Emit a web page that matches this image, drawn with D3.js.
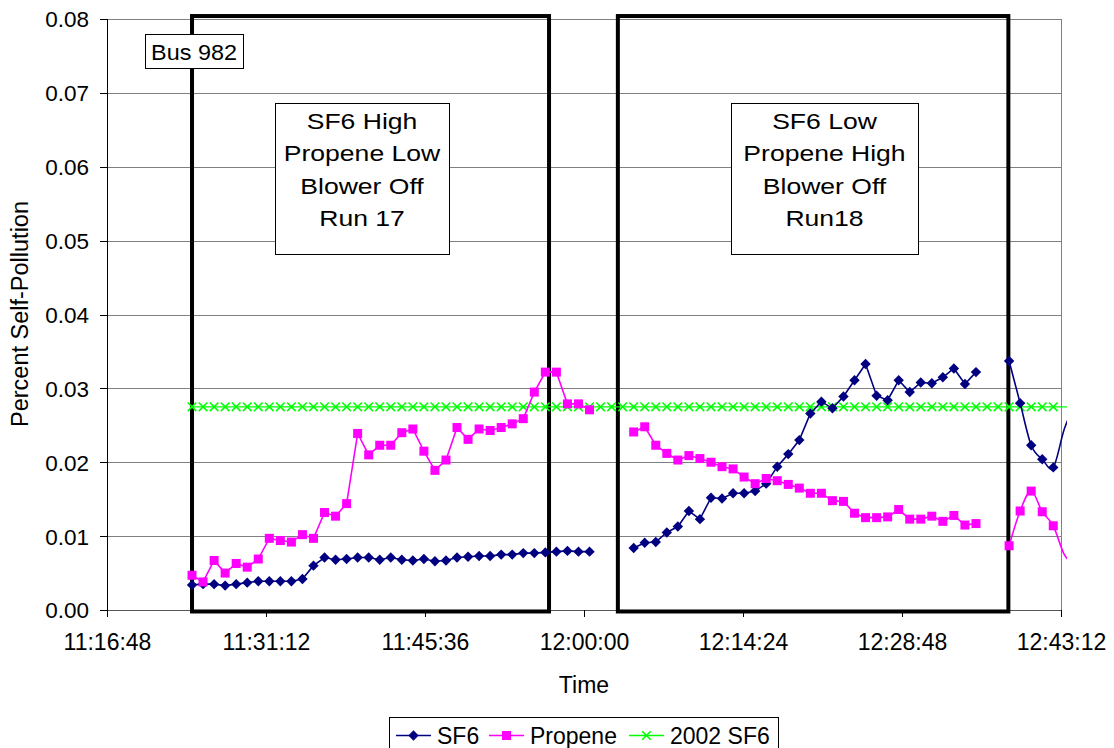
<!DOCTYPE html>
<meta charset="utf-8">
<style>
body { margin: 0; background: #fff; }
text { font-family: "Liberation Sans", Arial, sans-serif; fill: #000; }
.grid line { stroke: #808080; stroke-width: 1px; shape-rendering: crispEdges; }
.axis path, .axis line { fill: none; stroke: #000; shape-rendering: crispEdges; }
</style>
<body>
<script src="https://d3js.org/d3.v7.min.js"></script>
<script>

// sampling starts of each run (one reading per minute)
var runStarts = ["11:24:30", "12:04:30", "12:38:30"];

// SF6 readings, percent self-pollution
var sf6Run17 = [0.0034,0.0035,0.0035,0.0033,0.0035,0.0037,0.0039,0.0039,0.0039,0.0039,
                0.0042,0.0060,0.0071,0.0068,0.0069,0.0071,0.0071,0.0068,0.0071,0.0068,
                0.0067,0.0069,0.0066,0.0067,0.0071,0.0072,0.0073,0.0073,0.0075,0.0075,
                0.0077,0.0077,0.0078,0.0079,0.0080,0.0079,0.0079];
var sf6Run18 = [0.0084,0.0091,0.0092,0.0105,0.0113,0.0134,0.0123,0.0152,0.0151,0.0158,
                0.0158,0.0161,0.0171,0.0194,0.0211,0.0230,0.0266,0.0282,0.0273,0.0289,
                0.0311,0.0333,0.0290,0.0284,0.0311,0.0295,0.0308,0.0307,0.0315,0.0327,
                0.0306,0.0322];
var sf6Run19 = [0.0337,0.0280,0.0223,0.0204,0.0193,0.0245,0.0280];

// Propene readings
var propRun17 = [0.0047,0.0038,0.0067,0.0050,0.0063,0.0058,0.0069,0.0097,0.0094,0.0092,
                 0.0102,0.0097,0.0132,0.0127,0.0144,0.0239,0.0210,0.0223,0.0223,0.0240,
                 0.0245,0.0215,0.0189,0.0203,0.0247,0.0231,0.0245,0.0243,0.0247,0.0252,
                 0.0259,0.0295,0.0322,0.0322,0.0279,0.0279,0.0271];
var propRun18 = [0.0241,0.0248,0.0223,0.0212,0.0203,0.0209,0.0205,0.0200,0.0194,0.0191,
                 0.0180,0.0171,0.0178,0.0175,0.0170,0.0165,0.0158,0.0158,0.0148,0.0147,
                 0.0131,0.0125,0.0125,0.0126,0.0136,0.0123,0.0123,0.0127,0.0120,0.0128,
                 0.0115,0.0117];
var propRun19 = [0.0087,0.0134,0.0161,0.0133,0.0114,0.0075,0.0060];

// 2002 SF6 reference, from 11:24:30 every minute
var sf6Ref2002 = [0.0275,0.0275,0.0275,0.0275,0.0275,0.0275,0.0275,0.0275,0.0275,0.0275,
                  0.0275,0.0275,0.0275,0.0275,0.0275,0.0275,0.0275,0.0275,0.0275,0.0275,
                  0.0275,0.0275,0.0275,0.0275,0.0275,0.0275,0.0275,0.0275,0.0275,0.0275,
                  0.0275,0.0275,0.0275,0.0275,0.0275,0.0275,0.0275,0.0275,0.0275,0.0275,
                  0.0275,0.0275,0.0275,0.0275,0.0275,0.0275,0.0275,0.0275,0.0275,0.0275,
                  0.0275,0.0275,0.0275,0.0275,0.0275,0.0275,0.0275,0.0275,0.0275,0.0275,
                  0.0275,0.0275,0.0275,0.0275,0.0275,0.0275,0.0275,0.0275,0.0275,0.0275,
                  0.0275,0.0275,0.0275,0.0275,0.0275,0.0275,0.0275,0.0275,0.0275,0.0275,
                  0.0275];

var xTickLabels = ["11:16:48","11:31:12","11:45:36","12:00:00","12:14:24","12:28:48","12:43:12"];
var yTickValues = [0, 0.01, 0.02, 0.03, 0.04, 0.05, 0.06, 0.07, 0.08];

// run windows drawn as thick frames
var runWindows = [["11:24:30", "11:56:50"], ["12:03:04", "12:38:26"]];

var parseTime = d3.timeParse("%H:%M:%S");
var fmtTime = d3.timeFormat("%H:%M:%S");

function series(start, vals) {
  var t0 = parseTime(start);
  return vals.map(function(v, i) { return {t: d3.timeMinute.offset(t0, i), v: v}; });
}

var W = 1114, H = 748;
var plot = {left: 107, right: 1061, top: 19, bottom: 610};

var x = d3.scaleTime()
    .domain([parseTime(xTickLabels[0]), parseTime(xTickLabels[xTickLabels.length - 1])])
    .range([plot.left, plot.right]);
var y = d3.scaleLinear().domain([0, 0.08]).range([plot.bottom, plot.top]);

var svg = d3.select("body").append("svg")
    .attr("width", W)
    .attr("height", H);

svg.append("defs").append("clipPath").attr("id", "lineclip")
  .append("rect")
    .attr("x", plot.left).attr("y", 0)
    .attr("width", 1067 - plot.left).attr("height", plot.bottom);

// gridlines
svg.append("g").attr("class", "grid")
  .selectAll("line").data(yTickValues.slice(1)).enter().append("line")
    .attr("x1", plot.left).attr("x2", plot.right)
    .attr("y1", function(d) { return Math.round(y(d)) + 0.5; })
    .attr("y2", function(d) { return Math.round(y(d)) + 0.5; });
svg.append("line")
    .attr("x1", plot.right + 0.5).attr("x2", plot.right + 0.5)
    .attr("y1", plot.top).attr("y2", plot.bottom)
    .style("stroke", "#808080");

// axes
var yAxis = svg.append("g").attr("class", "axis")
    .attr("transform", "translate(" + plot.left + ",0)")
    .call(d3.axisLeft(y).tickValues(yTickValues).tickFormat(d3.format(".2f"))
      .tickSize(7).tickSizeOuter(0).tickPadding(11));
yAxis.selectAll("text").style("font-size", "22.5px").attr("dy", "0.35em");
yAxis.select(".domain").attr("d", "M0.5," + plot.top + "V" + (plot.bottom + 1));

var xAxis = svg.append("g").attr("class", "axis")
    .attr("transform", "translate(0," + plot.bottom + ")")
    .call(d3.axisBottom(x).tickValues(xTickLabels.map(parseTime)).tickFormat(fmtTime)
      .tickSize(7).tickSizeOuter(0).tickPadding(17));
xAxis.selectAll("text").style("font-size", "23px");
xAxis.select(".domain").style("stroke", "#555");

svg.append("text")
    .attr("transform", "translate(28,314) rotate(-90)")
    .attr("text-anchor", "middle")
    .style("font-size", "23.5px")
    .text("Percent Self-Pollution");

svg.append("text")
    .attr("x", 584).attr("y", 693)
    .attr("text-anchor", "middle")
    .style("font-size", "23px")
    .text("Time");

// thick run frames
svg.selectAll(".runbox").data(runWindows).enter().append("rect")
    .attr("class", "runbox")
    .attr("x", function(d) { return x(parseTime(d[0])); })
    .attr("y", y(0.0804))
    .attr("width", function(d) { return x(parseTime(d[1])) - x(parseTime(d[0])); })
    .attr("height", y(-0.0002) - y(0.0804))
    .style("fill", "none").style("stroke", "#000").style("stroke-width", 4);

// series
var sf6Color = "#000080", propColor = "#FF00FF", refColor = "#00FF00";

var straight = d3.line().x(function(d) { return x(d.t); }).y(function(d) { return y(d.v); });
var smooth = d3.line().x(function(d) { return x(d.t); }).y(function(d) { return y(d.v); })
    .curve(d3.curveCatmullRom.alpha(0));

var refData = series(runStarts[0], sf6Ref2002);
var groups = [
  {data: series(runStarts[0], sf6Run17), color: sf6Color, shape: "diamond", gen: straight},
  {data: series(runStarts[1], sf6Run18), color: sf6Color, shape: "diamond", gen: straight},
  {data: series(runStarts[2], sf6Run19), color: sf6Color, shape: "diamond", gen: smooth},
  {data: series(runStarts[0], propRun17), color: propColor, shape: "square", gen: straight},
  {data: series(runStarts[1], propRun18), color: propColor, shape: "square", gen: straight},
  {data: series(runStarts[2], propRun19), color: propColor, shape: "square", gen: smooth}
];

var marks = svg.append("g");
var xmax = x.domain()[1];

function drawMarker(sel, shape, color) {
  if (shape === "diamond") {
    sel.append("path").attr("d", "M0,-5.2L5.2,0L0,5.2L-5.2,0Z").style("fill", color);
  } else if (shape === "square") {
    sel.append("rect").attr("x", -4.5).attr("y", -4.5).attr("width", 9).attr("height", 9)
      .style("fill", color);
  } else {
    sel.append("path").attr("d", "M-4.3,-4.3L4.3,4.3M-4.3,4.3L4.3,-4.3")
      .style("stroke", color).style("stroke-width", 1.6).style("fill", "none");
  }
}

// 2002 SF6 reference line
marks.append("path").datum(refData)
    .attr("clip-path", "url(#lineclip)")
    .attr("d", straight)
    .style("fill", "none").style("stroke", refColor).style("stroke-width", 1.3);
marks.selectAll(".refpt").data(refData.filter(function(d) { return d.t <= xmax; }))
  .enter().append("g").attr("class", "refpt")
    .attr("transform", function(d) { return "translate(" + x(d.t) + "," + y(d.v) + ")"; })
    .each(function() { drawMarker(d3.select(this), "x", refColor); });

groups.forEach(function(g) {
  marks.append("path").datum(g.data)
      .attr("clip-path", "url(#lineclip)")
      .attr("d", g.gen)
      .style("fill", "none").style("stroke", g.color).style("stroke-width", 1.6);
  marks.append("g").selectAll("g").data(g.data.filter(function(d) { return d.t <= xmax; }))
    .enter().append("g")
      .attr("transform", function(d) { return "translate(" + x(d.t) + "," + y(d.v) + ")"; })
      .each(function() { drawMarker(d3.select(this), g.shape, g.color); });
});

// text annotations
function noteBox(x0, y0, w, h, lines, size, lineGap, stretch, firstBase) {
  var g = svg.append("g");
  g.append("rect").attr("x", x0 + 0.5).attr("y", y0 + 0.5).attr("width", w).attr("height", h)
    .style("fill", "#fff").style("stroke", "#000").style("stroke-width", 1);
  lines.forEach(function(s, i) {
    g.append("text")
      .attr("transform", "translate(" + (x0 + w / 2) + "," + (y0 + firstBase + i * lineGap) + ") scale(" + stretch + ",1)")
      .attr("text-anchor", "middle")
      .style("font-size", size + "px")
      .text(s);
  });
}

noteBox(145, 34, 98, 34, ["Bus 982"], 22.5, 0, 1.04, 26);
noteBox(275, 103, 174, 151, ["SF6 High", "Propene Low", "Blower Off", "Run 17"], 22.5, 32.3, 1.18, 26);
noteBox(731, 103, 187, 151, ["SF6 Low", "Propene High", "Blower Off", "Run18"], 22.5, 32.3, 1.18, 26);

// legend
var legend = svg.append("g");
legend.append("rect").attr("x", 389.5).attr("y", 717.5).attr("width", 389).attr("height", 40)
    .style("fill", "#fff").style("stroke", "#000");
var legendItems = [
  {name: "SF6", color: sf6Color, shape: "diamond", x0: 396},
  {name: "Propene", color: propColor, shape: "square", x0: 489},
  {name: "2002 SF6", color: refColor, shape: "x", x0: 629}
];
legendItems.forEach(function(d) {
  var g = legend.append("g").attr("transform", "translate(" + d.x0 + ",735.5)");
  g.append("line").attr("x1", 0).attr("x2", 35)
    .style("stroke", d.color).style("stroke-width", 1.5);
  var m = g.append("g").attr("transform", "translate(17.5,0)");
  drawMarker(m, d.shape, d.color);
  g.append("text").attr("x", 41).attr("y", 8)
    .style("font-size", "23px")
    .text(d.name);
});

</script>
</body>
